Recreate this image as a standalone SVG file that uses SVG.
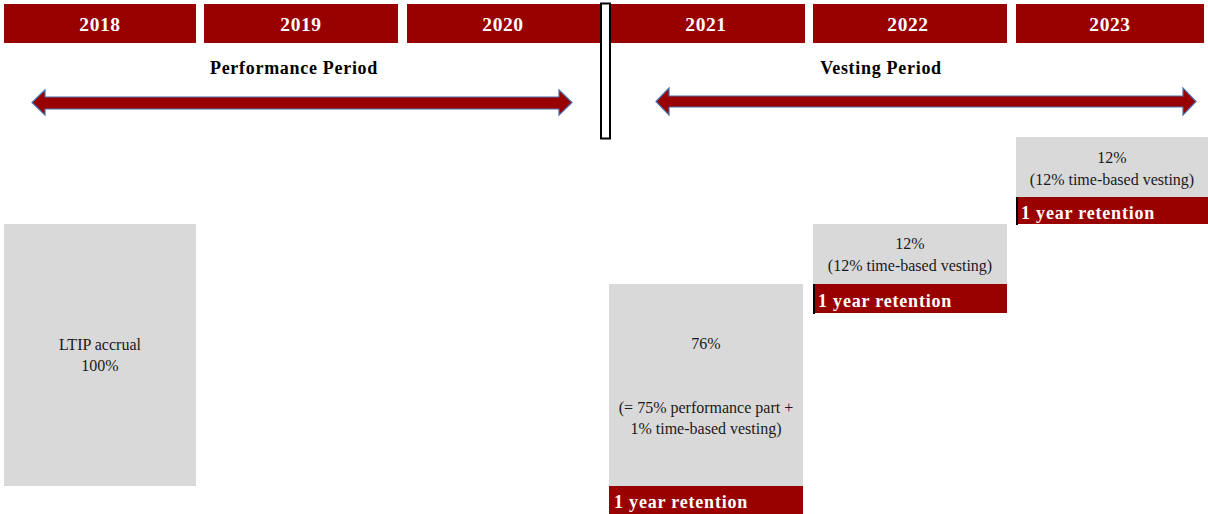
<svg xmlns="http://www.w3.org/2000/svg" width="1208" height="514" viewBox="0 0 1208 514">
<defs>
<style>
.yr{fill:#990000}
.yt{font-family:"Liberation Serif",serif;font-weight:bold;font-size:19.5px;fill:#fff;text-anchor:middle;letter-spacing:0.6px}
.hd{font-family:"Liberation Serif",serif;font-weight:bold;font-size:18px;fill:#000;text-anchor:middle;letter-spacing:0.7px}
.box{fill:#d9d9d9}
.bt{font-family:"Liberation Serif",serif;font-size:16px;fill:#1a1a1a;text-anchor:middle}
.ret{fill:#990000}
.rt{font-family:"Liberation Serif",serif;font-weight:bold;font-size:18px;fill:#fff;letter-spacing:0.8px}
.arr{fill:#990000;stroke:#4a6ea8;stroke-width:1.2}
</style>
</defs>
<rect width="1208" height="514" fill="#fff"/>
<g id="years">
<rect class="yr" x="4" y="4" width="192" height="39"/>
<text class="yt" x="100" y="31">2018</text>
<rect class="yr" x="204" y="4" width="194" height="39"/>
<text class="yt" x="301" y="31">2019</text>
<rect class="yr" x="407" y="4" width="196" height="39"/>
<text class="yt" x="503" y="31">2020</text>
<rect class="yr" x="607" y="4" width="198" height="39"/>
<text class="yt" x="706" y="31">2021</text>
<rect class="yr" x="813" y="4" width="194" height="39"/>
<text class="yt" x="908" y="31">2022</text>
<rect class="yr" x="1016" y="4" width="188" height="39"/>
<text class="yt" x="1110" y="31">2023</text>
</g>
<g id="divider">
<rect x="601" y="3.5" width="9" height="135" fill="#fff" stroke="#000" stroke-width="2"/>
</g>
<g id="perf">
<text class="hd" x="294" y="74">Performance Period</text>
<path class="arr" d="M32,102.5 L45,90 L45,97 L559,97 L559,90 L572,102.5 L559,115 L559,109 L45,109 L45,115 Z"/>
</g>
<g id="vest">
<text class="hd" x="881" y="74">Vesting Period</text>
<path class="arr" d="M656,101.5 L669,88 L669,96 L1183,96 L1183,88 L1196,101.5 L1183,115 L1183,107 L669,107 L669,115 Z"/>
</g>
<g id="ltip">
<rect class="box" x="4" y="224" width="192" height="262"/>
<text class="bt" x="100" y="350">LTIP accrual</text>
<text class="bt" x="100" y="371">100%</text>
</g>
<g id="v2021">
<rect class="box" x="609" y="284" width="194" height="202"/>
<text class="bt" x="706" y="349">76%</text>
<text class="bt" x="706" y="413">(= 75% performance part +</text>
<text class="bt" x="706" y="434">1% time-based vesting)</text>
<rect class="ret" x="609" y="486" width="194" height="28"/>
<text class="rt" x="614" y="508">1 year retention</text>
</g>
<g id="v2022">
<rect class="box" x="813" y="224" width="194" height="60"/>
<text class="bt" x="910" y="249">12%</text>
<text class="bt" x="910" y="271">(12% time-based vesting)</text>
<rect class="ret" x="813" y="284" width="194" height="29"/>
<line x1="814" y1="284" x2="814" y2="314" stroke="#000" stroke-width="2"/>
<text class="rt" x="818" y="307">1 year retention</text>
</g>
<g id="v2023">
<rect class="box" x="1016" y="137" width="192" height="60"/>
<text class="bt" x="1112" y="163">12%</text>
<text class="bt" x="1112" y="185">(12% time-based vesting)</text>
<rect class="ret" x="1016" y="197" width="192" height="27"/>
<line x1="1017" y1="197" x2="1017" y2="225" stroke="#000" stroke-width="2"/>
<text class="rt" x="1021" y="219">1 year retention</text>
</g>
</svg>
